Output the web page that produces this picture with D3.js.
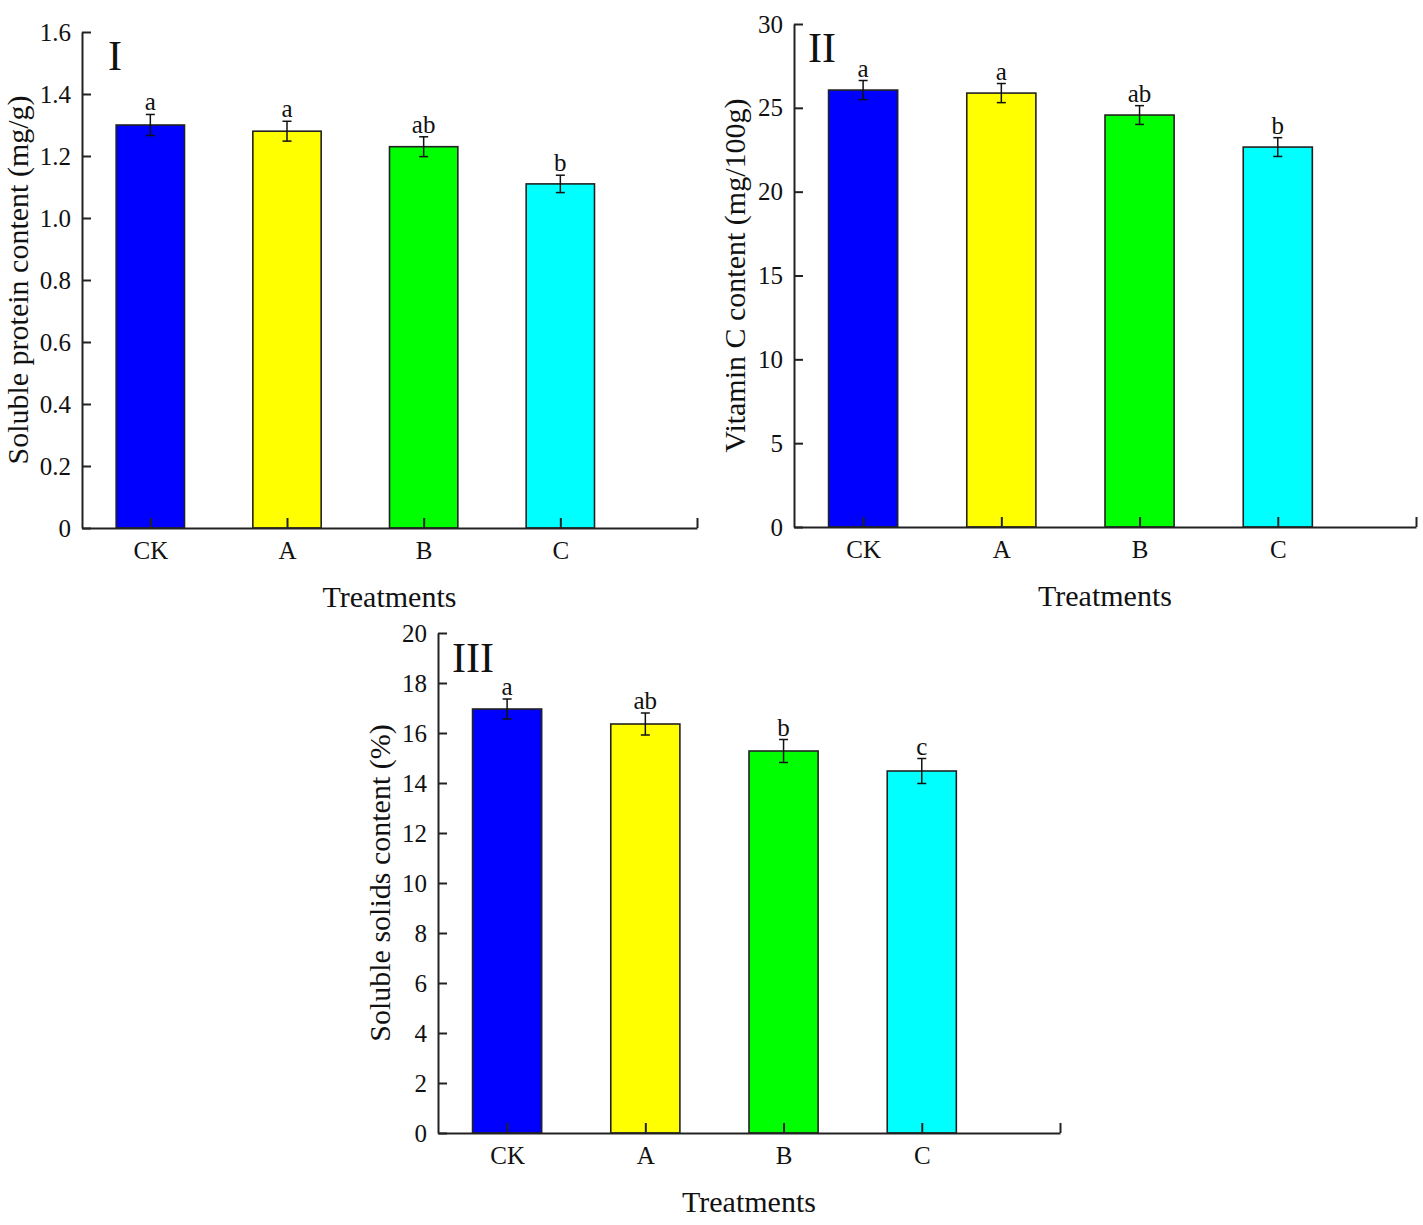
<!DOCTYPE html>
<html>
<head>
<meta charset="utf-8">
<script src="https://cdn.jsdelivr.net/npm/d3@7"></script>
<style>
  body { margin: 0; background: #fff; }
  svg { display: block; }
</style>
</head>
<body>
<svg width="1423" height="1225"></svg>
<script>
// data
var treatments = ["CK", "A", "B", "C"];
var barColors = ["#0000ff", "#ffff00", "#00ff00", "#00ffff"];

var proteinMean = [1.30, 1.28, 1.23, 1.11];
var proteinErr = [0.034, 0.032, 0.032, 0.028];
var proteinSig = ["a", "a", "ab", "b"];
var proteinTicks = [0, 0.2, 0.4, 0.6, 0.8, 1.0, 1.2, 1.4, 1.6];

var vitcMean = [26.06, 25.88, 24.57, 22.66];
var vitcErr = [0.57, 0.57, 0.56, 0.56];
var vitcSig = ["a", "a", "ab", "b"];
var vitcTicks = [0, 5, 10, 15, 20, 25, 30];

var solidsMean = [16.96, 16.36, 15.28, 14.48];
var solidsErr = [0.40, 0.44, 0.46, 0.50];
var solidsSig = ["a", "ab", "b", "c"];
var solidsTicks = [0, 2, 4, 6, 8, 10, 12, 14, 16, 18, 20];

var FONT = '"Liberation Serif", "Times New Roman", serif';
var svg = d3.select("svg");

function drawPanel(p) {
  var g = svg.append("g");
  var x = d3.scaleLinear().domain([0.5, 5]).range([p.left, p.right]);
  var y = d3.scaleLinear().domain([0, p.ticks[p.ticks.length - 1]]).range([p.bottom, p.top]);
  var step = x(2) - x(1);
  var bw = step * 0.5;

  var rows = treatments.map(function (t, i) {
    return { name: t, i: i + 1, v: p.mean[i], e: p.err[i], s: p.sig[i], c: barColors[i] };
  });

  // bars
  g.selectAll("rect.bar").data(rows).enter().append("rect")
    .attr("class", "bar")
    .attr("x", function (d) { return x(d.i) - bw / 2; })
    .attr("y", function (d) { return y(d.v); })
    .attr("width", bw)
    .attr("height", function (d) { return y(0) - y(d.v); })
    .attr("fill", function (d) { return d.c; })
    .attr("stroke", "#222")
    .attr("stroke-width", 1.6);

  // error bars
  var cap = 4.5;
  var eb = g.selectAll("g.err").data(rows).enter().append("g")
    .attr("stroke", "#111").attr("stroke-width", 1.5);
  eb.append("line")
    .attr("x1", function (d) { return x(d.i); })
    .attr("x2", function (d) { return x(d.i); })
    .attr("y1", function (d) { return y(d.v + d.e); })
    .attr("y2", function (d) { return y(d.v - d.e); });
  eb.append("line")
    .attr("x1", function (d) { return x(d.i) - cap; })
    .attr("x2", function (d) { return x(d.i) + cap; })
    .attr("y1", function (d) { return y(d.v + d.e); })
    .attr("y2", function (d) { return y(d.v + d.e); });
  eb.append("line")
    .attr("x1", function (d) { return x(d.i) - cap; })
    .attr("x2", function (d) { return x(d.i) + cap; })
    .attr("y1", function (d) { return y(d.v - d.e); })
    .attr("y2", function (d) { return y(d.v - d.e); });

  // significance letters
  g.selectAll("text.sig").data(rows).enter().append("text")
    .attr("x", function (d) { return x(d.i); })
    .attr("y", function (d) { return y(d.v + d.e) - 4; })
    .attr("text-anchor", "middle")
    .attr("font-family", FONT)
    .attr("font-size", "25px")
    .attr("fill", "#111")
    .text(function (d) { return d.s; });

  // axes
  var xAxis = d3.axisBottom(x)
    .tickValues([1, 2, 3, 4, 5])
    .tickFormat(function (v) { return treatments[v - 1] || ""; })
    .tickSizeInner(-10).tickSizeOuter(0).tickPadding(13);
  var gx = g.append("g").attr("transform", "translate(0," + p.bottom + ")").call(xAxis);

  var yAxis = d3.axisLeft(y)
    .tickValues(p.ticks)
    .tickFormat(p.fmt)
    .tickSizeInner(-9).tickSizeOuter(0).tickPadding(11);
  var gy = g.append("g").attr("transform", "translate(" + p.left + ",0)").call(yAxis);

  [gx, gy].forEach(function (a) {
    a.attr("font-family", FONT).attr("font-size", "25px");
    a.select(".domain").attr("stroke", "#222").attr("stroke-width", 2);
    a.selectAll(".tick line").attr("stroke", "#222").attr("stroke-width", 2);
    a.selectAll(".tick text").attr("fill", "#111");
  });

  // titles
  g.append("text")
    .attr("x", (p.left + p.right) / 2)
    .attr("y", p.bottom + 79)
    .attr("text-anchor", "middle")
    .attr("font-family", FONT)
    .attr("font-size", "30px")
    .attr("fill", "#111")
    .text("Treatments");

  g.append("text")
    .attr("transform", "translate(" + p.titleX + "," + (p.top + p.bottom) / 2 + ") rotate(-90)")
    .attr("text-anchor", "middle")
    .attr("font-family", FONT)
    .attr("font-size", "30px")
    .attr("fill", "#111")
    .text(p.title);

  g.append("text")
    .attr("x", p.left + p.labelDx)
    .attr("y", p.labelY)
    .attr("font-family", FONT)
    .attr("font-size", "42px")
    .attr("fill", "#111")
    .text(p.label);
}

drawPanel({
  left: 82, right: 697, top: 32, bottom: 528,
  mean: proteinMean, err: proteinErr, sig: proteinSig, ticks: proteinTicks,
  fmt: function (v) { return v === 0 ? "0" : d3.format(".1f")(v); },
  title: "Soluble protein content (mg/g)", titleX: 28,
  label: "I", labelDx: 26, labelY: 70
});

drawPanel({
  left: 794, right: 1416, top: 24, bottom: 527,
  mean: vitcMean, err: vitcErr, sig: vitcSig, ticks: vitcTicks,
  fmt: d3.format("d"),
  title: "Vitamin C content (mg/100g)", titleX: 745,
  label: "II", labelDx: 14, labelY: 62
});

drawPanel({
  left: 438, right: 1060, top: 633, bottom: 1133,
  mean: solidsMean, err: solidsErr, sig: solidsSig, ticks: solidsTicks,
  fmt: d3.format("d"),
  title: "Soluble solids content (%)", titleX: 390,
  label: "III", labelDx: 14, labelY: 672
});
</script>
</body>
</html>
